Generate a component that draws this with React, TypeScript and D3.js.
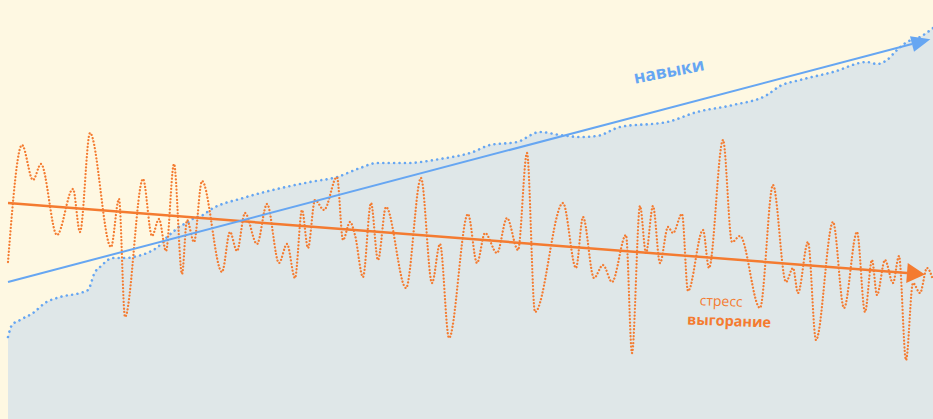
import React from "react";
import * as d3 from "d3";

// time (t) and level (v) units; v measured upward
const stressT = [0,14,25,33,49,65,72,82,103,111,117,135,144,151,158,166,174,179,186,194,214,222,229,237,249,259,271,279,287,294,300,307,316,329,335,342,347,355,363,370,378,398,413,424,432,441,460,469,477,489,499,510,519,527,555,568,575,586,595,604,618,624,632,638,645,652,660,665,674,680,695,701,715,724,732,752,765,778,785,790,800,808,825,836,849,857,864,869,877,885,891,898,905,912,919,925];
const stressV = [157,274,239,255,184,230,187,286,172,220,102,240,183,200,168,255,145,199,177,238,147,187,168,206,175,215,156,175,141,209,171,219,209,242,179,197,184,142,216,159,212,131,241,136,175,81,205,156,186,166,201,169,266,107,216,151,202,141,154,137,184,66,213,166,213,156,192,186,205,128,189,151,279,177,183,111,234,137,151,126,177,79,197,111,187,107,159,124,159,136,163,59,136,126,151,139];

const skillT = [0,4,12,25,37,52,72,80,87,92,105,119,125,139,152,159,165,172,179,186,195,202,235,269,302,329,352,369,399,432,465,482,509,532,552,572,589,612,659,689,725,759,772,792,825,859,869,879,889,899,912,925];
const skillV = [82,94,99,106,116,122,126,129,147,152,161,161,162,166,174,182,187,193,196,201,204,209,221,230,237,242,251,256,256,260,267,274,277,287,284,282,283,292,297,307,314,324,333,339,347,357,355,359,369,377,382,391];

const stressTrendT = [0, 899];
const stressTrendV = [216, 146];
const skillTrendT = [0, 904];
const skillTrendV = [137, 375];

const labelSkills = "навыки";
const labelStress = "стресс";
const labelBurnout = "выгорание";

const W = 933;
const H = 419;
const ORANGE = "#f47b30";
const BLUE = "#66a6f2";

function arrowHead(x1: number, y1: number, x2: number, y2: number, len: number, half: number) {
  const a = Math.atan2(y2 - y1, x2 - x1);
  const ux = Math.cos(a), uy = Math.sin(a);
  const tipX = x2 + ux * len, tipY = y2 + uy * len;
  const p1 = [x2 - uy * half, y2 + ux * half];
  const p2 = [x2 + uy * half, y2 - ux * half];
  return `M${tipX},${tipY}L${p1[0]},${p1[1]}L${p2[0]},${p2[1]}Z`;
}

export default function App() {
  const x = d3.scaleLinear().domain([0, 925]).range([8, 933]);
  const y = d3.scaleLinear().domain([0, 419]).range([H, 0]);

  const stress = stressT.map((t, i) => [t, stressV[i]] as [number, number]);
  const skill = skillT.map((t, i) => [t, skillV[i]] as [number, number]);

  const line = d3.line<[number, number]>().x(d => x(d[0])).y(d => y(d[1])).curve(d3.curveMonotoneX);
  const area = d3.area<[number, number]>().x(d => x(d[0])).y0(H).y1(d => y(d[1])).curve(d3.curveMonotoneX);

  const st = [x(stressTrendT[0]), y(stressTrendV[0]), x(stressTrendT[1]), y(stressTrendV[1])];
  const sk = [x(skillTrendT[0]), y(skillTrendV[0]), x(skillTrendT[1]), y(skillTrendV[1])];

  return (
    <svg width={W} height={H} style={{ position: "absolute", left: 0, top: 0 }}
      fontFamily="'Open Sans', 'Noto Sans', sans-serif">
      <rect x={0} y={0} width={W} height={H} fill="#fef8e2" />
      <path d={area(skill) || ""} fill="#dfe7e8" />
      <path d={line(skill) || ""} fill="none" stroke={BLUE} strokeWidth={2.6} strokeLinecap="round" strokeDasharray="0.01 5.4" />
      <path d={line(stress) || ""} fill="none" stroke={ORANGE} strokeWidth={2.3} strokeLinecap="round" strokeDasharray="0.01 3.4" />
      <line x1={st[0]} y1={st[1]} x2={st[2]} y2={st[3]} stroke={ORANGE} strokeWidth={2.5} />
      <path d={arrowHead(st[0], st[1], st[2], st[3], 18, 10)} fill={ORANGE} />
      <line x1={sk[0]} y1={sk[1]} x2={sk[2]} y2={sk[3]} stroke={BLUE} strokeWidth={2} />
      <path d={arrowHead(sk[0], sk[1], sk[2], sk[3], 19, 8)} fill={BLUE} />
      <text x={670} y={77} fill={BLUE} fontSize={17.5} fontWeight={700} textAnchor="middle"
        transform="rotate(-11 670 77)">{labelSkills}</text>
      <text x={721} y={306} fill={ORANGE} fontSize={14} fontWeight={500} textAnchor="middle"
        transform="rotate(2 721 306)">{labelStress}</text>
      <text x={729} y={326} fill={ORANGE} fontSize={14.5} fontWeight={700} textAnchor="middle"
        transform="rotate(2 729 326)">{labelBurnout}</text>
    </svg>
  );
}
